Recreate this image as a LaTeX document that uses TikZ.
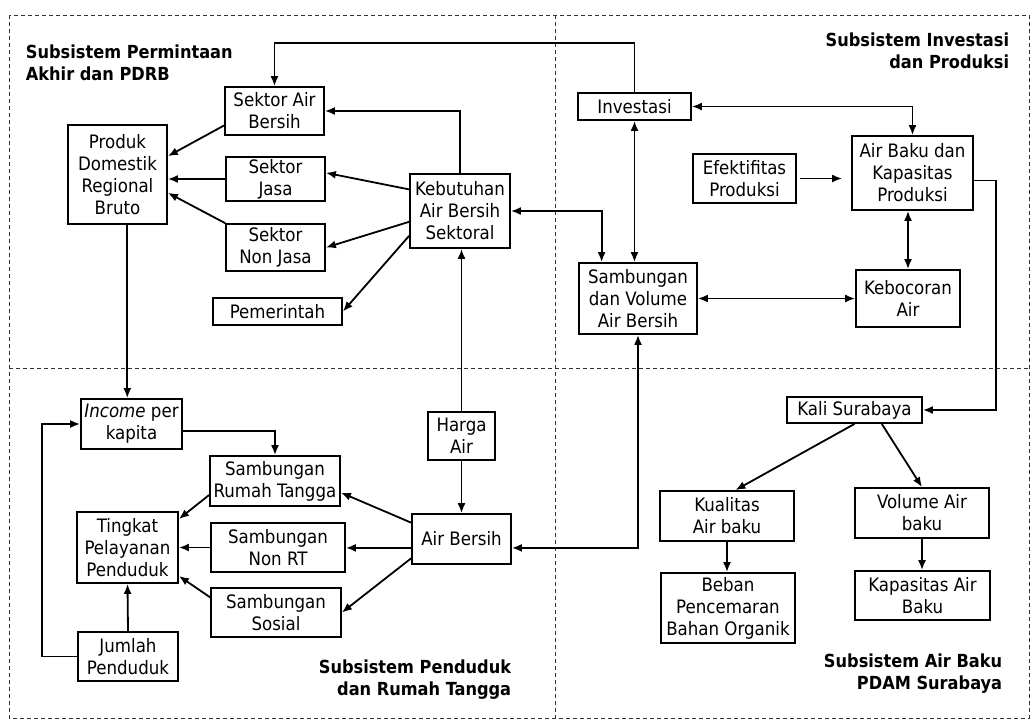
\documentclass[tikz,border=0pt]{standalone}
\usepackage{fontspec}
\setmainfont{DejaVu Sans Condensed}
\usetikzlibrary{arrows.meta}

\begin{document}
\begin{tikzpicture}[x=1pt,y=-1pt,line width=1.8pt,
>={Latex[length=10pt,width=8pt]},
% common options for blocks:
block/.style = {draw, align=center, inner sep=0,
            font=\fontsize{18.5}{22}\selectfont},
% common options for the subsystem headings:
heading/.style = {align=left, inner sep=0,
            font=\fontsize{18}{22}\selectfont\bfseries},
% common options for the dashed frame:
quadrant/.style = {draw=black!80, line width=1pt, dash pattern=on 4pt off 3pt}]
\useasboundingbox (0,0) rectangle (1033,721);
\draw[quadrant] (9,15) rectangle (1029,718);
\draw[quadrant] (9,368) -- (1029,368);
\draw[quadrant] (555,15) -- (555,718);
% Subsistem Permintaan Akhir dan PDRB
\node[heading,anchor=north west] (A0) at (25,44) {Subsistem Permintaan\\Akhir dan PDRB};
\node[block,minimum width=99pt,minimum height=99pt] (A1) at (117.5,174.5) {Produk\\Domestik\\Regional\\Bruto};
\node[block,minimum width=99pt,minimum height=48pt] (A2) at (274.5,111) {Sektor Air\\Bersih};
\node[block,minimum width=99pt,minimum height=44pt] (A3) at (275.5,179) {Sektor\\Jasa};
\node[block,minimum width=99pt,minimum height=47pt] (A4) at (275.5,247.5) {Sektor\\Non Jasa};
\node[block,minimum width=129pt,minimum height=27pt] (A5) at (277.5,311.5) {Pemerintah};
\node[block,minimum width=100pt,minimum height=74pt] (A6) at (460,211) {Kebutuhan\\Air Bersih\\Sektoral};
% Subsistem Investasi dan Produksi
\node[heading,anchor=north east,align=right] (B0) at (1010,32) {Subsistem Investasi\\dan Produksi};
\node[block,minimum width=113pt,minimum height=27pt] (B1) at (634.5,106.5) {Investasi};
\node[block,minimum width=118pt,minimum height=71pt] (B2) at (638,298.5) {Sambungan\\dan Volume\\Air Bersih};
\node[block,minimum width=103pt,minimum height=49pt] (B3) at (744.5,178.5) {Efektifitas\\Produksi};
\node[block,minimum width=121pt,minimum height=74pt] (B4) at (912.5,173) {Air Baku dan\\Kapasitas\\Produksi};
\node[block,minimum width=104pt,minimum height=57pt] (B5) at (908,298.5) {Kebocoran\\Air};
% Subsistem Penduduk dan Rumah Tangga
\node[heading,anchor=north east,align=right] (C0) at (512,659) {Subsistem Penduduk\\dan Rumah Tangga};
\node[block,minimum width=101pt,minimum height=50pt] (C1) at (131.5,424) {\textit{Income} per\\kapita};
\node[block,minimum width=101pt,minimum height=71pt] (C2) at (127.5,547.5) {Tingkat\\Pelayanan\\Penduduk};
\node[block,minimum width=100pt,minimum height=49pt] (C3) at (128,656.5) {Jumlah\\Penduduk};
\node[block,minimum width=130pt,minimum height=50pt] (C4) at (275,481) {Sambungan\\Rumah Tangga};
\node[block,minimum width=134pt,minimum height=49pt] (C5) at (278,547.5) {Sambungan\\Non RT};
\node[block,minimum width=130pt,minimum height=49pt] (C6) at (276,612.5) {Sambungan\\Sosial};
\node[block,minimum width=67pt,minimum height=48pt] (C7) at (461.5,436) {Harga\\Air};
\node[block,minimum width=99pt,minimum height=50pt] (C8) at (461.5,539) {Air Bersih};
% Subsistem Air Baku PDAM Surabaya
\node[heading,anchor=north east,align=right] (D0) at (1003,653) {Subsistem Air Baku\\PDAM Surabaya};
\node[block,minimum width=135pt,minimum height=26pt] (D1) at (854.5,410) {Kali Surabaya};
\node[block,minimum width=134pt,minimum height=50pt] (D2) at (727,516) {Kualitas\\Air baku};
\node[block,minimum width=134pt,minimum height=50pt] (D3) at (922,513) {Volume Air\\baku};
\node[block,minimum width=134pt,minimum height=70pt] (D4) at (728,608) {Beban\\Pencemaran\\Bahan Organik};
\node[block,minimum width=135pt,minimum height=49pt] (D5) at (922.5,595.5) {Kapasitas Air\\Baku};
% connectors
\coordinate (A7) at (274.5,43);
\draw[->] (B1.north) |- (A7) to (A2.north);
\draw[->] (A6.north) |- (A2.east);
\draw[->] (A6.157) to (A3.7);
\draw[->] (A6.192) to (A4.east);
\draw[->] (A6.206) to (A5.east);
\draw[->] (A2.196) to (A1.20);
\draw[->] (A3.west) to (A3.west -| A1.east);
\draw[->] (A4.north west) to (A1.-20);
\draw[->] (A1.-79) to (A1.-79 |- C1.north);
\draw[<->] (A6.east) -| (B2.135);
\draw[<->] (B1.south) to (B1.south |- B2.north);
\draw[<->] (B1.east) -| (B4.north);
\draw[->,shorten <=3pt,shorten >=9pt] (B3.east) to (B3.east -| B4.west);
\draw[<->] (B4.south -| B5.north) to (B5.north);
\draw[<->] (B2.east) to (B5.west);
\draw[->] (B4.-7) -- ++(22,0) |- (D1.east);
\draw[->] (C7.north) to (C7.north |- A6.south);
\draw[->] (C7.south) to (C8.north);
\draw[<->] (B2.south) |- (C8.-10);
\draw[->] (C1.-8) -| (C4.north);
\draw[->] (C8.162) to (C4.-10);
\draw[->] (C8.190) to (C8.190 -| C5.east);
\draw[->] (C8.201) to (C6.east);
\draw[->] (C4.192) to (C2.29);
\draw[->] (C5.west) to (C5.west -| C2.east);
\draw[->] (C6.167) to (C2.-29);
\draw[->] (C3.north) to (C2.south);
\draw[->] (C3.west) -- ++(-35,0) |- (C1.west);
\draw[->] (D1.south) to (D2.72);
\draw[->] (D1.-27) to (D3.north);
\draw[->] (D2.south) to (D2.south |- D4.north);
\draw[->] (D3.south) to (D3.south |- D5.north);
\end{tikzpicture}
\end{document}
